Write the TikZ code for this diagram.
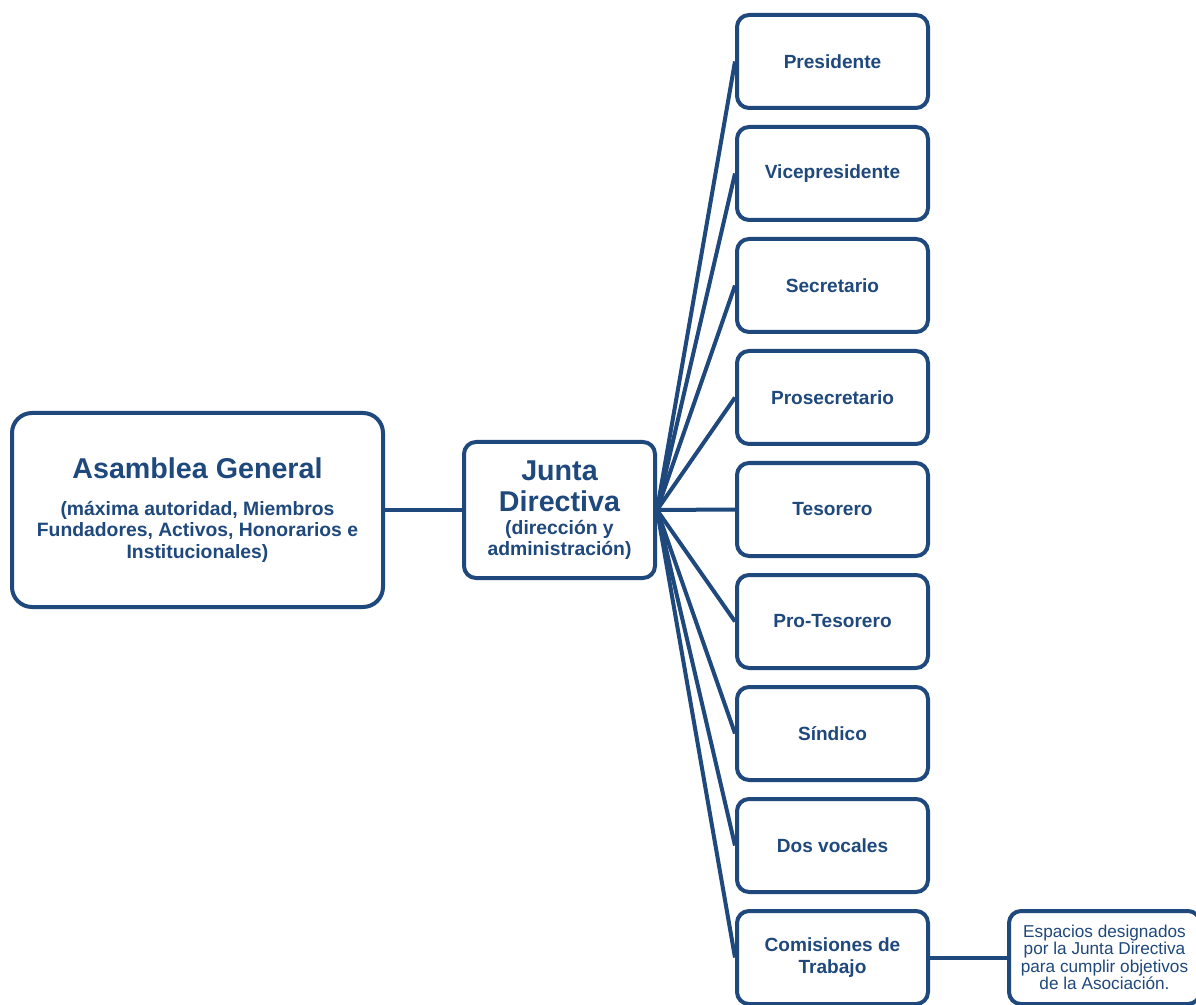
\documentclass[tikz,border=0pt]{standalone}
\usepackage{fontspec}
\setmainfont{Liberation Sans}
\definecolor{orgblue}{HTML}{1F487C}
\newcommand\bigsize{\bfseries\fontsize{21.5}{22.5}\selectfont}
\newcommand\subsize{\bfseries\fontsize{14.5}{16}\selectfont}
\tikzset{every picture/.style={line width=0.75pt}}
\tikzset{
  orgbox/.style={draw=orgblue, line width=3pt, rounded corners=9pt, fill=white,
    text=orgblue, align=center, inner sep=2pt,
    minimum width=143.25pt, minimum height=69.75pt},
  boxfont/.style={font=\bfseries\fontsize{14.3}{16.5}\selectfont},
  link/.style={draw=orgblue, line width=3pt}
}

\begin{document}
\begin{tikzpicture}[x=0.75pt,y=0.75pt,yscale=-1,xscale=1]
\useasboundingbox (0,0) rectangle (1196,1005);

\node (asamblea) [orgbox, rounded corners=15pt, minimum width=278.25pt, minimum height=145.5pt, font=\subsize] at (197.5,510)
  {\bigsize Asamblea General\\[11.75pt]
   \subsize (máxima autoridad, Miembros\\ \subsize Fundadores, Activos, Honorarios e\\ \subsize Institucionales)};
\node (junta) [orgbox, minimum height=102pt, font=\bfseries\fontsize{14}{15.75}\selectfont] at (559.5,510)
  {\bigsize Junta\\[6.7pt] \bigsize Directiva\\[1.5pt]
   \subsize (dirección y\\ \subsize administración)};

\foreach \lbl [count=\i from 0] in {Presidente, Vicepresidente, Secretario, Prosecretario, Tesorero, Pro-Tesorero, Síndico, Dos vocales, {Comisiones de\\Trabajo}}
{
  \node (cargo\i) [orgbox, boxfont] at (832.5,61.5+112*\i) {\lbl};
  \draw [link] (junta.east) -- (cargo\i.west);
}

\node (espacios) [orgbox, font=\fontsize{12.9}{13}\selectfont] at (1104.5,957.5)
  {Espacios designados\\ por la Junta Directiva\\ para cumplir objetivos\\ de la Asociación.};

\draw [link] (asamblea.east) -- (junta.west);
\draw [link] (cargo8.east) -- (espacios.west);

\end{tikzpicture}
\end{document}
